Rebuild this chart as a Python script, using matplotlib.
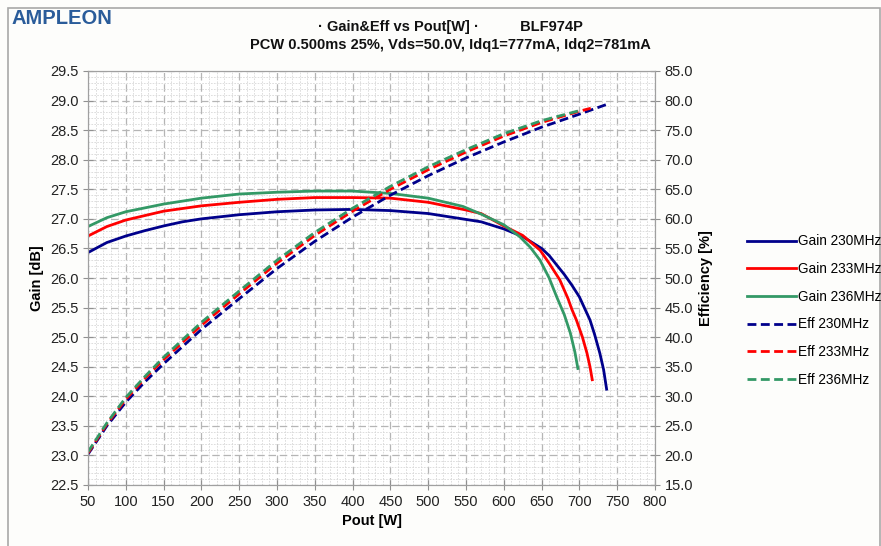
import matplotlib
matplotlib.use("Agg")
import matplotlib.pyplot as plt
from matplotlib.ticker import MultipleLocator, FormatStrFormatter
from matplotlib.patches import Rectangle

plt.rcParams['font.family'] = ['Liberation Sans', 'DejaVu Sans']

# ---- data ----
g230_x = [50, 75, 100, 125, 150, 175, 200, 250, 300, 350, 400, 450, 500, 550, 570, 600, 625, 650, 660, 670, 680, 690, 700, 714, 720, 727, 732, 736]
g230_y = [26.43, 26.6, 26.71, 26.8, 26.88, 26.95, 27.0, 27.07, 27.12, 27.15, 27.16, 27.14, 27.09, 26.99, 26.95, 26.83, 26.7, 26.5, 26.38, 26.22, 26.06, 25.88, 25.68, 25.29, 25.05, 24.73, 24.45, 24.12]

g233_x = [50, 75, 100, 150, 200, 250, 300, 350, 400, 450, 500, 550, 570, 600, 625, 648, 660, 674, 685, 690, 696, 704, 710, 714, 717]
g233_y = [26.71, 26.87, 26.98, 27.13, 27.22, 27.28, 27.33, 27.36, 27.36, 27.35, 27.28, 27.15, 27.09, 26.88, 26.72, 26.47, 26.25, 25.97, 25.65, 25.47, 25.29, 25.0, 24.73, 24.5, 24.28]

g236_x = [50, 75, 100, 150, 200, 250, 300, 350, 400, 450, 500, 546, 570, 600, 621, 635, 648, 660, 670, 680, 688, 694, 698]
g236_y = [26.87, 27.02, 27.12, 27.25, 27.35, 27.42, 27.45, 27.47, 27.47, 27.43, 27.35, 27.21, 27.08, 26.9, 26.7, 26.52, 26.3, 26.0, 25.68, 25.38, 25.07, 24.75, 24.47]

e230_x = [50, 75, 100, 125, 150, 200, 250, 300, 350, 400, 450, 500, 550, 600, 650, 700, 735]
e230_y = [20.2, 25.0, 29.0, 32.4, 35.5, 41.3, 46.5, 51.6, 56.2, 60.3, 64.0, 67.3, 70.3, 73.0, 75.5, 77.7, 79.3]

e233_x = [50, 75, 100, 125, 150, 200, 250, 300, 350, 400, 450, 500, 550, 600, 650, 700, 715]
e233_y = [20.4, 25.3, 29.5, 33.0, 36.2, 42.0, 47.3, 52.5, 57.2, 61.3, 65.0, 68.3, 71.3, 74.0, 76.3, 78.2, 78.7]

e236_x = [50, 75, 100, 125, 150, 200, 250, 300, 350, 400, 450, 500, 550, 600, 650, 700]
e236_y = [20.6, 25.5, 29.8, 33.3, 36.6, 42.5, 47.8, 53.0, 57.7, 61.8, 65.5, 68.8, 71.7, 74.4, 76.6, 78.3]

labels = ['Gain 230MHz', 'Gain 233MHz', 'Gain 236MHz', 'Eff 230MHz', 'Eff 233MHz', 'Eff 236MHz']
c_navy, c_red, c_green = '#00008b', '#ff0000', '#339966'

fig = plt.figure(figsize=(8.81, 5.46), dpi=100)
fig.patch.set_facecolor('#fdfdfb')
fig.patches.append(Rectangle((8/881, -0.01), 0.99, 1 - 8/546 + 0.01,
                             transform=fig.transFigure, fill=False,
                             edgecolor='#a8a8a8', linewidth=1.2))

ax = fig.add_axes([88/881, 1-485/546, (655-88)/881, (485-71)/546])
ax.set_facecolor('white')
ax2 = ax.twinx()

lw = 2.0
h1, = ax.plot(g230_x, g230_y, color=c_navy, lw=lw)
h2, = ax.plot(g233_x, g233_y, color=c_red, lw=lw)
h3, = ax.plot(g236_x, g236_y, color=c_green, lw=lw)
dash = (0, (3.2, 1.6))
h4, = ax2.plot(e230_x, e230_y, color=c_navy, lw=lw, linestyle=dash)
h5, = ax2.plot(e233_x, e233_y, color=c_red, lw=lw, linestyle=dash)
h6, = ax2.plot(e236_x, e236_y, color=c_green, lw=lw, linestyle=dash)

ax.set_xlim(50, 800)
ax.set_ylim(22.5, 29.5)
ax2.set_ylim(15, 85)

ax.xaxis.set_major_locator(MultipleLocator(50))
ax.xaxis.set_minor_locator(MultipleLocator(10))
ax.yaxis.set_major_locator(MultipleLocator(0.5))
ax.yaxis.set_minor_locator(MultipleLocator(0.1))
ax.yaxis.set_major_formatter(FormatStrFormatter('%.1f'))
ax2.yaxis.set_major_locator(MultipleLocator(5))
ax2.yaxis.set_major_formatter(FormatStrFormatter('%.1f'))
ax2.yaxis.set_minor_locator(MultipleLocator(1))

ax.grid(which='major', color='#b5b5b5', linestyle=(0, (6, 3)), linewidth=0.9)
ax.grid(which='minor', color='#d8d8d8', linestyle=(0, (2, 1.5)), linewidth=0.6)
ax.set_axisbelow(True)

for a in (ax, ax2):
    for s in a.spines.values():
        s.set_color('#a0a0a0')
ax.tick_params(which='major', direction='inout', length=7, color='#909090', labelsize=10.5)
ax.tick_params(which='minor', length=0)
ax2.tick_params(which='major', direction='inout', length=7, color='#909090', labelsize=10.5)
ax2.tick_params(which='minor', length=0)
for lab in ax.get_xticklabels() + ax.get_yticklabels() + ax2.get_yticklabels():
    lab.set_color('#222222')

ax.set_xlabel('Pout [W]', fontsize=10.5, fontweight='bold', labelpad=4)
ax.set_ylabel('Gain [dB]', fontsize=10.5, fontweight='bold', labelpad=4)
ax2.set_ylabel('Efficiency [%]', fontsize=10.5, fontweight='bold', labelpad=4)

fig.text(450/881, 1-27/546, '· Gain&Eff vs Pout[W] ·          BLF974P', ha='center', va='center',
         fontsize=10.5, fontweight='bold', color='#111111')
fig.text(450/881, 1-45/546, 'PCW 0.500ms 25%, Vds=50.0V, Idq1=777mA, Idq2=781mA', ha='center', va='center',
         fontsize=10.5, fontweight='bold', color='#111111')
fig.text(12/881, 1-19/546, 'AMPLEON', ha='left', va='center', fontsize=14.5,
         fontweight='bold', color='#2a5c9a')

fig.legend([h1, h2, h3, h4, h5, h6], labels, loc='upper left',
           bbox_to_anchor=(742/881, 1-229/546), frameon=False,
           fontsize=9.8, handlelength=3.6, handletextpad=0.1, labelspacing=1.0,
           borderaxespad=0)

fig.savefig('out.png', dpi=100, facecolor=fig.get_facecolor())
